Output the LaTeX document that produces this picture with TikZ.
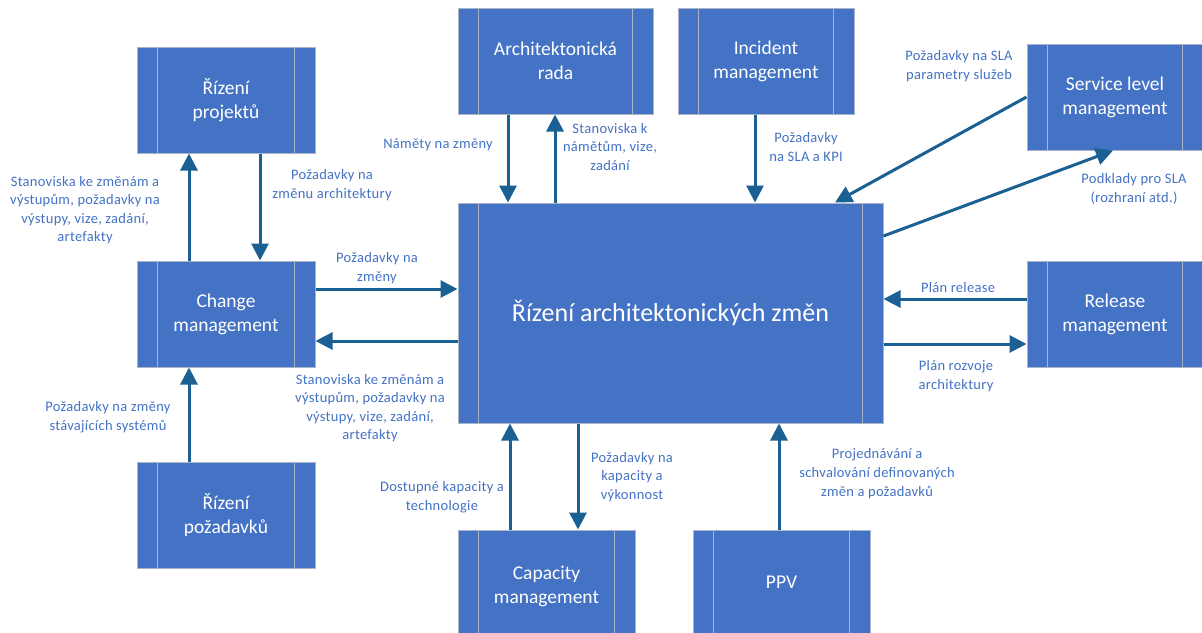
\documentclass[tikz,border=0pt]{standalone}
\usepackage{fontspec}
\setmainfont{Carlito}
\usetikzlibrary{arrows.meta,calc}
\definecolor{boxfill}{HTML}{4472C4}
\definecolor{boxline}{HTML}{A9B4C6}
\definecolor{arrcol}{HTML}{1B6093}
\definecolor{lblcol}{HTML}{4472C4}
\tikzset{
  procbox/.style={draw=boxline, line width=1pt, fill=boxfill, text=white, align=center,
    font=\fontsize{19.5}{24}\selectfont, inner sep=0pt},
  smallbox/.style={procbox, minimum width=177pt, minimum height=106pt},
  arr/.style={draw=arrcol, line width=3pt, -{Triangle[length=17pt,width=17pt]}},
  lbl/.style={text=lblcol, align=center, font=\fontsize{14.5}{18.5}\selectfont\addfontfeature{LetterSpace=2}, inner sep=0pt},
}
\newcommand{\innerlines}[1]{%
  \draw[boxline, line width=1pt] ([xshift=21pt]#1.north west) -- ([xshift=21pt]#1.south west);
  \draw[boxline, line width=1pt] ([xshift=-21pt]#1.north east) -- ([xshift=-21pt]#1.south east);}
\begin{document}
\begin{tikzpicture}[x=1pt,y=-1pt]
\fill[white] (0,0) rectangle (1202,632);
\clip (0,0) rectangle (1202,632);
% boxes
\node[smallbox, minimum width=178pt] (proj) at (226,100) {Řízení\\projektů};
\node[smallbox, minimum width=178pt] (chg) at (226,314) {Change\\management};
\node[smallbox, minimum width=178pt] (req) at (226,515) {Řízení\\požadavků};
\node[smallbox, minimum width=195pt] (arch) at (555.5,61) {Architektonická\\rada};
\node[smallbox, minimum width=176pt] (inc) at (766,61) {Incident\\management};
\node[smallbox, minimum width=176pt] (slm) at (1115,97) {Service level\\management};
\node[smallbox, minimum width=176pt] (rel) at (1115,314) {Release\\management};
\node[procbox, minimum width=425pt, minimum height=220pt, font=\fontsize{26}{30}\selectfont] (main) at (670.5,313) {Řízení architektonických změn};
\node[smallbox, minimum width=177pt] (cap) at (546.5,583) {};
\node[text=white, align=center, font=\fontsize{19.5}{24}\selectfont] (captxt) at (546.5,586) {Capacity\\management};
\node[smallbox, minimum width=177pt] (ppv) at (781.5,583) {};
\node[text=white, font=\fontsize{19.5}{24}\selectfont] (ppvtxt) at (781.5,582) {PPV};
\innerlines{proj}\innerlines{chg}\innerlines{req}\innerlines{arch}\innerlines{inc}
\innerlines{slm}\innerlines{rel}\innerlines{main}\innerlines{cap}\innerlines{ppv}
% arrows
\draw[arr] (chg.north -| 189,0) -- (proj.south -| 189,0);
\draw[arr] (proj.south -| 260,0) -- (chg.north -| 260,0);
\draw[arr] (req.north -| 189,0) -- (chg.south -| 189,0);
\draw[arr] (chg.east |- 0,289) -- (main.west |- 0,289);
\draw[arr] (main.west |- 0,341) -- (chg.east |- 0,341);
\draw[arr] (arch.south -| 508,0) -- (main.north -| 508,0);
\draw[arr] (main.north -| 555,0) -- (arch.south -| 555,0);
\draw[arr] (inc.south -| 755,0) -- (main.north -| 755,0);
\draw[arr] (slm.west) -- (main.north -| 835,0);
\draw[arr] (main.east |- 0,236) -- (slm.south -| 1113,0);
\draw[arr] (rel.west |- 0,299) -- (main.east |- 0,299);
\draw[arr] (main.east |- 0,344) -- (rel.west |- 0,344);
\draw[arr] (cap.north -| 510,0) -- (main.south -| 510,0);
\draw[arr] (main.south -| 578,0) -- (cap.north -| 578,0);
\draw[arr] (ppv.north -| 779,0) -- (main.south -| 779,0);
% labels
\node[lbl] (l1) at (85,210) {Stanoviska ke změnám a\\výstupům, požadavky na\\výstupy, vize, zadání,\\artefakty};
\node[lbl] (l2) at (332,185) {Požadavky na\\změnu architektury};
\node[lbl] (l3) at (377,268) {Požadavky na\\změny};
\node[lbl] (l4) at (370,408) {Stanoviska ke změnám a\\výstupům, požadavky na\\výstupy, vize, zadání,\\artefakty};
\node[lbl] (l5) at (108,417) {Požadavky na změny\\stávajících systémů};
\node[lbl] (l6) at (438,145) {Náměty na změny};
\node[lbl] (l7) at (610,147) {Stanoviska k\\námětům, vize,\\zadání};
\node[lbl] (l8) at (806,147) {Požadavky\\na SLA a KPI};
\node[lbl] (l9) at (959,66) {Požadavky na SLA\\parametry služeb};
\node[lbl] (l10) at (1134,189) {Podklady pro SLA\\(rozhraní atd.)};
\node[lbl] (l11) at (958,288) {Plán release};
\node[lbl] (l12) at (956,376) {Plán rozvoje\\architektury};
\node[lbl] (l13) at (442,497) {Dostupné kapacity a\\technologie};
\node[lbl] (l14) at (632,477) {Požadavky na\\kapacity a\\výkonnost};
\node[lbl, font=\fontsize{14.5}{19}\selectfont\addfontfeature{LetterSpace=2}] (l15) at (877,474) {Projednávání a\\schvalování definovaných\\změn a požadavků};
\end{tikzpicture}
\end{document}
